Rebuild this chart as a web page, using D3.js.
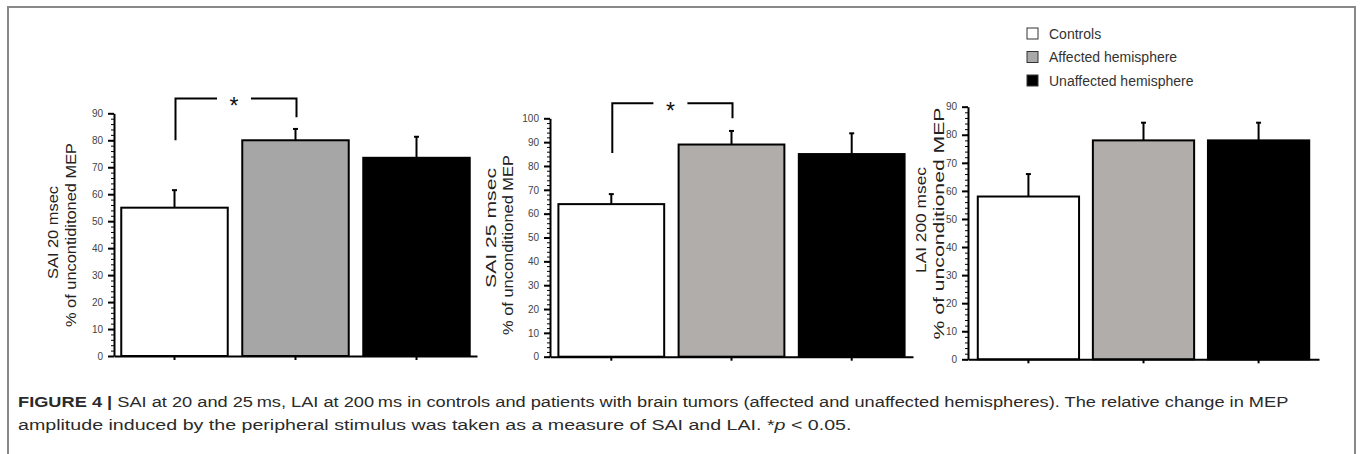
<!DOCTYPE html>
<html>
<head>
<meta charset="utf-8">
<script src="https://cdn.jsdelivr.net/npm/d3@7"></script>
<style>
  body { margin: 0; background: #fff; }
  svg { display: block; font-family: "Liberation Sans", Arial, sans-serif; }
  .axis path, .axis line { stroke: #000; stroke-width: 2px; }
  .axis text { fill: #444; font-size: 10px; font-family: "Liberation Sans", Arial, sans-serif; }
  .minor line { stroke: #000; stroke-width: 1px; }
  .minor path { display: none; }
</style>
</head>
<body>
<svg id="fig" width="1360" height="454"></svg>
<script>
// groups + values
var groups = ["Controls", "Affected hemisphere", "Unaffected hemisphere"];
var sai20Means = [55, 80, 73.5];
var sai20Errors = [6.5, 4.2, 7.8];
var sai25Means = [64, 89, 85];
var sai25Errors = [4.2, 5.7, 8.7];
var lai200Means = [58, 78, 78];
var lai200Errors = [8, 6.3, 6.3];
var ticks90 = [0, 10, 20, 30, 40, 50, 60, 70, 80, 90];
var ticks100 = [0, 10, 20, 30, 40, 50, 60, 70, 80, 90, 100];
// significance brackets: [left foot, top, right foot] in data units
var sai20Bracket = [80, 95.5, 88.5];
var sai25Bracket = [85.4, 106.3, 100];

var svg = d3.select("#fig");

// frame
svg.append("path")
  .attr("d", "M8,460 L8,7 L1355,7 L1355,460")
  .attr("fill", "none")
  .attr("stroke", "#888")
  .attr("stroke-width", 2);

var panels = [
  { means: sai20Means, errs: sai20Errors, ticks: ticks90, max: 90, bracket: sai20Bracket,
    x0: 114, x1: 477, y0: 356, yTop: 113.3, outer: 0.06, gray: "#a6a6a6",
    labels: [
      { text: "SAI 20 msec", x: 58, y: 232.5, size: 14, len: 93 },
      { text: "% of uncontiditoned MEP", x: 75.5, y: 235, size: 14, len: 184 }
    ] },
  { means: sai25Means, errs: sai25Errors, ticks: ticks100, max: 100, bracket: sai25Bracket,
    x0: 550, x1: 913, y0: 356.7, yTop: 118.3, outer: 0.07, gray: "#b0adab",
    labels: [
      { text: "SAI 25 msec", x: 496, y: 228, size: 15, len: 120 },
      { text: "% of unconditioned MEP", x: 513, y: 245, size: 15, len: 180 }
    ] },
  { means: lai200Means, errs: lai200Errors, ticks: ticks90, max: 90, bracket: null,
    x0: 968, x1: 1319, y0: 359.3, yTop: 106.7, outer: 0.085, gray: "#b0adab",
    labels: [
      { text: "LAI  200 msec", x: 925.5, y: 220, size: 15, len: 106 },
      { text: "% of unconditioned MEP", x: 944, y: 223.5, size: 15, len: 232 }
    ] }
];

panels.forEach(function (p) {
  var x = d3.scaleBand()
    .domain(groups)
    .range([p.x0, p.x1])
    .paddingInner(0.12)
    .paddingOuter(p.outer);
  var y = d3.scaleLinear()
    .domain([0, p.max])
    .range([p.y0, p.yTop]);

  var colors = ["#fff", p.gray, "#000"];

  // minor ticks
  svg.append("g")
    .attr("class", "minor")
    .attr("transform", "translate(" + p.x0 + ",0)")
    .call(d3.axisLeft(y).tickValues(d3.range(0, p.max + 1, 2)).tickSize(3).tickFormat(""));

  // y axis
  svg.append("g")
    .attr("class", "axis")
    .attr("transform", "translate(" + p.x0 + ",0)")
    .call(d3.axisLeft(y).tickValues(p.ticks).tickSize(6).tickSizeOuter(0).tickPadding(5));

  // bars
  svg.selectAll(null)
    .data(p.means)
    .enter().append("rect")
    .attr("x", function (d, i) { return x(groups[i]); })
    .attr("y", function (d) { return y(d); })
    .attr("width", x.bandwidth())
    .attr("height", function (d) { return y(0) - y(d); })
    .attr("fill", function (d, i) { return colors[i]; })
    .attr("stroke", "#000")
    .attr("stroke-width", 2);

  // error bars (upper only)
  var cx = function (i) { return x(groups[i]) + x.bandwidth() / 2; };
  var eb = svg.append("g").attr("stroke", "#000").attr("stroke-width", 2);
  p.means.forEach(function (m, i) {
    eb.append("line")
      .attr("x1", cx(i)).attr("x2", cx(i))
      .attr("y1", y(m)).attr("y2", y(m + p.errs[i]));
    eb.append("line")
      .attr("x1", cx(i) - 2.5).attr("x2", cx(i) + 2.5)
      .attr("y1", y(m + p.errs[i])).attr("y2", y(m + p.errs[i]));
  });

  // x axis
  svg.append("g")
    .attr("class", "axis")
    .attr("transform", "translate(0," + p.y0 + ")")
    .call(d3.axisBottom(x).tickSize(4).tickSizeOuter(0).tickFormat(""));

  // significance bracket
  if (p.bracket) {
    var bx1 = cx(0) + 1, bx2 = cx(1) + 1;
    var top = y(p.bracket[1]);
    var mid = (bx1 + bx2) / 2 - 2;
    var gap = 17;
    var br = svg.append("g").attr("fill", "none").attr("stroke", "#000").attr("stroke-width", 2);
    br.append("path")
      .attr("d", "M" + bx1 + "," + y(p.bracket[0]) + " L" + bx1 + "," + top + " L" + (mid - gap) + "," + top);
    br.append("path")
      .attr("d", "M" + (mid + gap) + "," + top + " L" + bx2 + "," + top + " L" + bx2 + "," + y(p.bracket[2]));
    svg.append("text")
      .attr("x", mid)
      .attr("y", top + 16)
      .attr("text-anchor", "middle")
      .style("font-size", "23px")
      .style("fill", "#111")
      .text("*");
  }

  // y labels
  p.labels.forEach(function (l) {
    svg.append("text")
      .attr("transform", "translate(" + l.x + "," + l.y + ") rotate(-90)")
      .attr("text-anchor", "middle")
      .attr("textLength", l.len)
      .attr("lengthAdjust", "spacingAndGlyphs")
      .style("font-size", l.size + "px")
      .style("fill", "#222")
      .text(l.text);
  });
});

// legend
var legend = svg.append("g").attr("transform", "translate(1027,28)");
var legendColors = ["#fff", "#a9a9a9", "#000"];
groups.forEach(function (g, i) {
  var row = legend.append("g").attr("transform", "translate(0," + (i * 23.5) + ")");
  row.append("rect")
    .attr("width", 11).attr("height", 11)
    .attr("fill", legendColors[i])
    .attr("stroke", "#333")
    .attr("stroke-width", 1);
  row.append("text")
    .attr("x", 22).attr("y", 10.5)
    .style("font-size", "14px")
    .style("fill", "#333")
    .text(g);
});

// caption
var capLines = [
  { parts: [["FIGURE 4 | ", "bold", "normal"], ["SAI at 20 and 25\u2009ms, LAI at 200\u2009ms in controls and patients with brain tumors (affected and unaffected hemispheres). The relative change in MEP", "normal", "normal"]], y: 407, w: 1272 },
  { parts: [["amplitude induced by the peripheral stimulus was taken as a measure of SAI and LAI. *", "normal", "normal"], ["p", "normal", "italic"], [" < 0.05.", "normal", "normal"]], y: 430, w: 834 }
];
capLines.forEach(function (c) {
  var t = svg.append("text")
    .attr("x", 18).attr("y", c.y)
    .style("font-size", "15.5px")
    .style("fill", "#2a2a2a");
  c.parts.forEach(function (pt) {
    t.append("tspan")
      .style("font-weight", pt[1])
      .style("font-style", pt[2])
      .text(pt[0]);
  });
  var bw = t.node().getBBox().width;
  t.attr("transform", "translate(18,0) scale(" + (c.w / bw) + ",1) translate(-18,0)");
});
</script>
</body>
</html>
